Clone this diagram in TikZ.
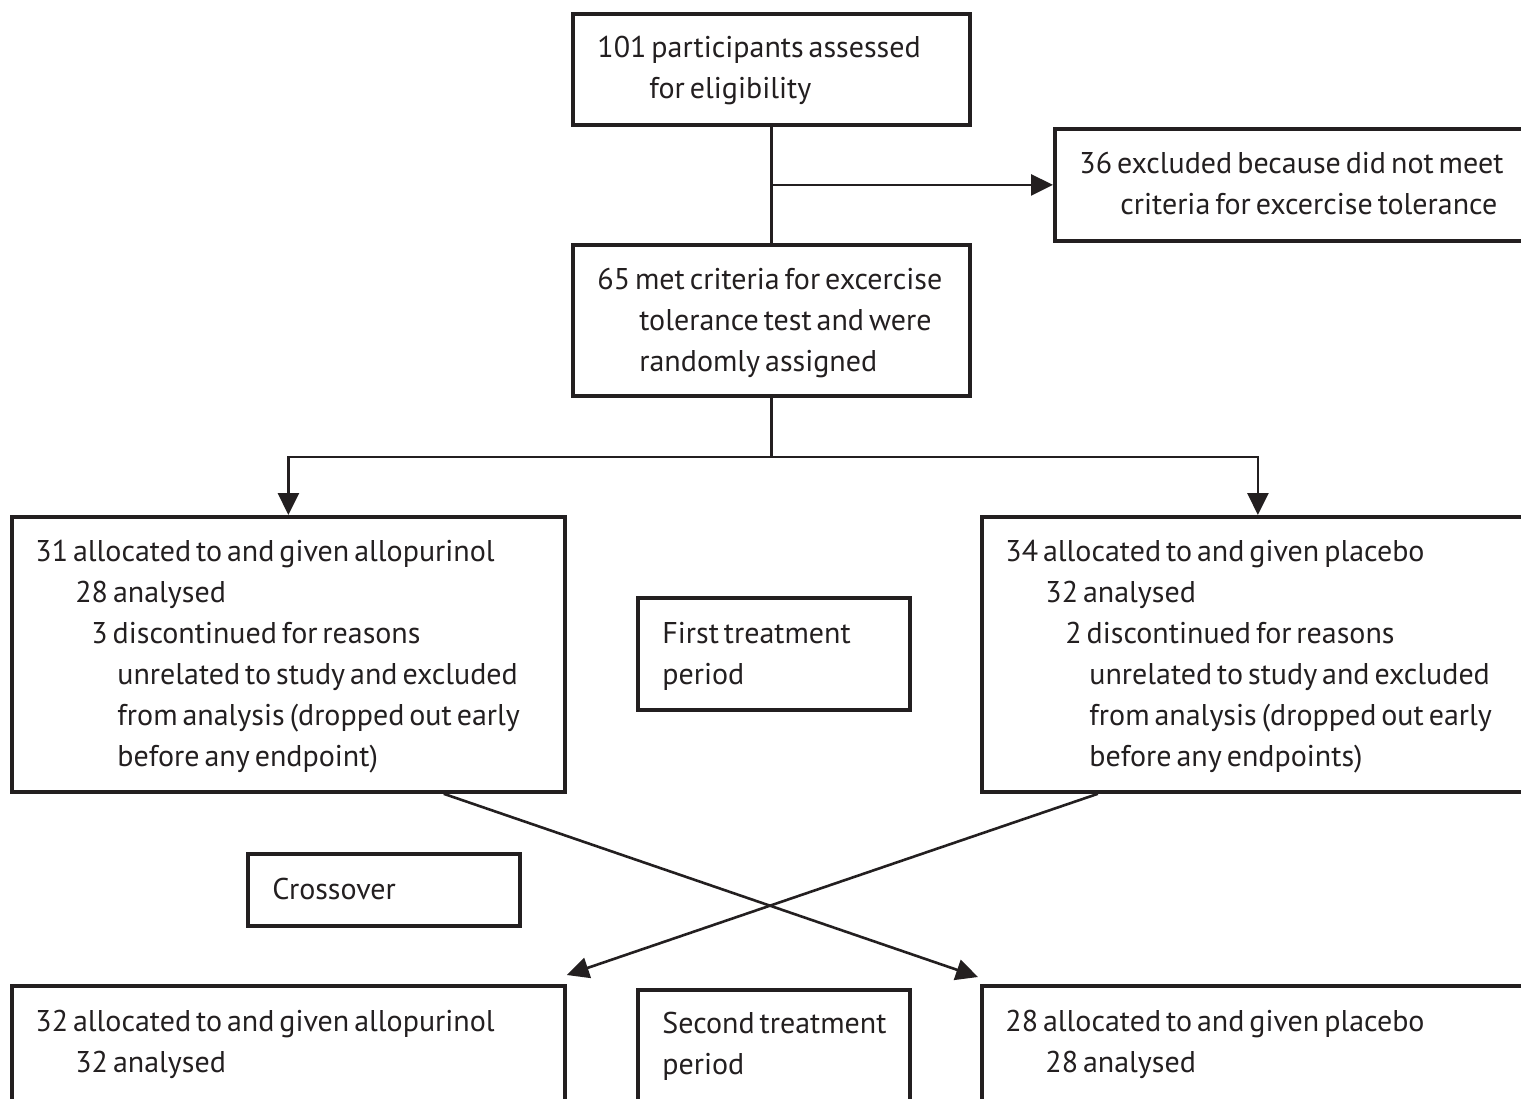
\documentclass[tikz,border=0pt]{standalone}
\usepackage{fontspec}
\setmainfont{PT Sans}[WordSpace=0.62]
\usetikzlibrary{arrows.meta,calc}
\definecolor{ink}{HTML}{231F20}
\newlength\px
\setlength\px{0.5pt}
\newcommand{\ind}[1]{\hspace*{#1\px}}
\tikzset{
  box/.style={draw=ink, line width=1.9pt, rectangle, inner sep=0pt, anchor=north west},
  txt/.style={inner sep=0pt, anchor=base west, text=ink, font=\fontsize{15}{20.5}\selectfont},
  conn/.style={draw=ink, line width=1.3pt},
  arr/.style={conn, -{Triangle[length=11pt,width=10.5pt]}},
}
\begin{document}
\begin{tikzpicture}[x=0.5pt,y=-0.5pt]
\clip (0,0) rectangle (1521,1098);
\fill[white] (0,0) rectangle (1521,1098);
% boxes
\node[box, minimum width=397\px, minimum height=111\px] (b1) at (571,12) {};
\node[box, minimum width=477\px, minimum height=112\px] (ex) at (1053,127) {};
\node[box, minimum width=397\px, minimum height=151\px] (b2) at (571,243) {};
\node[box, minimum width=553\px, minimum height=275\px] (L) at (10,515) {};
\node[box, minimum width=552\px, minimum height=275\px] (R) at (980,515) {};
\node[box, minimum width=272\px, minimum height=112\px] (ft) at (636,596) {};
\node[box, minimum width=272\px, minimum height=72\px] (co) at (246,852) {};
\node[box, minimum width=553\px, minimum height=200\px] (BL) at (10,984) {};
\node[box, minimum width=272\px, minimum height=200\px] (st) at (636,988) {};
\node[box, minimum width=552\px, minimum height=200\px] (BR) at (980,984) {};
% texts
\node[txt] (t1) at (597,57) {\begin{tabular}[t]{@{}l@{}}101 participants assessed\\\ind{52}for eligibility\end{tabular}};
\node[txt] (tex) at (1079,173) {\begin{tabular}[t]{@{}l@{}}36 excluded because did not meet\\\ind{41}criteria for excercise tolerance\end{tabular}};
\node[txt] (t2) at (597,289) {\begin{tabular}[t]{@{}l@{}}65 met criteria for excercise\\\ind{42}tolerance test and were\\\ind{42}randomly assigned\end{tabular}};
\node[txt] (tL) at (35,561) {\begin{tabular}[t]{@{}l@{}}31 allocated to and given allopurinol\\\ind{40}28 analysed\\\ind{56}3 discontinued for reasons\\\ind{82}unrelated to study and excluded\\\ind{82}from analysis (dropped out early\\\ind{82}before any endpoint)\end{tabular}};
\node[txt] (tR) at (1005,561) {\begin{tabular}[t]{@{}l@{}}34 allocated to and given placebo\\\ind{40}32 analysed\\\ind{60}2 discontinued for reasons\\\ind{84}unrelated to study and excluded\\\ind{84}from analysis (dropped out early\\\ind{84}before any endpoints)\end{tabular}};
\node[txt] (tft) at (662,643) {\begin{tabular}[t]{@{}l@{}}First treatment\\period\end{tabular}};
\node[txt] (tco) at (272,899) {Crossover};
\node[txt] (tBL) at (35,1031) {\begin{tabular}[t]{@{}l@{}}32 allocated to and given allopurinol\\\ind{40}32 analysed\end{tabular}};
\node[txt] (tst) at (662,1033) {\begin{tabular}[t]{@{}l@{}}Second treatment\\period\end{tabular}};
\node[txt] (tBR) at (1005,1031) {\begin{tabular}[t]{@{}l@{}}28 allocated to and given placebo\\\ind{40}28 analysed\end{tabular}};
% connectors
\coordinate (split) at ($(b2.south)+(0,59)$);
\draw[conn] (b1.south) -- (b2.north);
\draw[arr] (b1.south |- ex.west) -- (ex.west);
\draw[conn] (b2.south) -- (split);
\draw[arr] (split) -| (L.north);
\draw[arr] (split) -| (R.north);
\draw[arr] ($(L.south west)!0.779!(L.south east)$) -- ($(BR.north west)+(-2,-7)$);
\draw[arr] ($(R.south west)!0.212!(R.south east)$) -- ($(BL.north east)+(0,-9)$);
\end{tikzpicture}
\end{document}
